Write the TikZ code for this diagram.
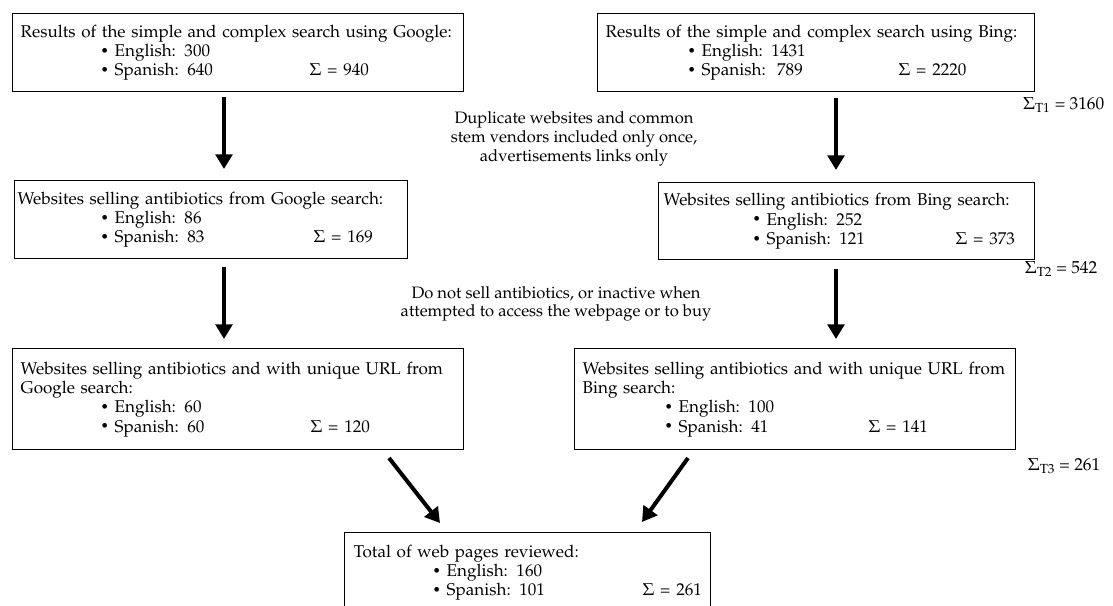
\documentclass[tikz,border=0pt]{standalone}
\usepackage[T1]{fontenc}
\usepackage{mathpazo}
\usepackage{graphicx}
\usetikzlibrary{arrows.meta,calc}
\newdimen\pxu \pxu=0.75pt
% bullet line: #2 bullet x offset (px), #3 text
\newcommand\bl[3][14]{\hspace*{#2\pxu}\makebox[#1\pxu][l]{\raisebox{0.15ex}{\scalebox{0.8}{\textbullet}}}#3}
% sum placed at absolute offset #1 (px) from text start
\newcommand\sg[2]{\makebox[0pt][l]{\hspace*{#1\pxu}$\Sigma$ = #2}}
\tikzset{
  box/.style={draw, line width=1.1pt, anchor=north west, inner xsep=0pt, inner ysep=0pt, align=left, font=\fontsize{12.8}{14.5}\selectfont},
  arr/.style={line width=3pt, -{Triangle[width=12.5pt,length=11pt]}},
  note/.style={align=center, font=\fontsize{12.4}{14}\selectfont},
  tot/.style={anchor=east, font=\fontsize{13}{15}\selectfont},
}
\begin{document}
\begin{tikzpicture}[x=0.75pt,y=-0.75pt]
\useasboundingbox (0,0) rectangle (1113,606);
\clip (0,0) rectangle (1113,606);
% boxes
\node[box, minimum width=451*0.75pt, minimum height=78*0.75pt, text width=451*0.75pt] (g1) at (12,13)
 {\hspace*{8\pxu}Results of the simple and complex search using Google:\\
  \hspace*{8\pxu}\bl{80}{English: 300}\\
  \hspace*{8\pxu}\sg{289}{940}\bl{80}{Spanish: 640}};
\node[box, minimum width=437*0.75pt, minimum height=78*0.75pt, text width=437*0.75pt] (b1) at (597,13)
 {\hspace*{8\pxu}Results of the simple and complex search using Bing:\\
  \hspace*{8\pxu}\bl{82}{English: 1431}\\
  \hspace*{8\pxu}\sg{293}{2220}\bl{82}{Spanish:\ \ 789}};
\node[box, minimum width=393*0.75pt, minimum height=78*0.75pt, text width=393*0.75pt] (g2) at (14,180)
 {\hspace*{3\pxu}Websites selling antibiotics from Google search:\\
  \hspace*{3\pxu}\bl{83}{English: 86}\\
  \hspace*{3\pxu}\sg{296}{169}\bl{83}{Spanish: 83}};
\node[box, minimum width=376*0.75pt, minimum height=77*0.75pt, text width=376*0.75pt] (b2) at (658,182)
 {\hspace*{5\pxu}Websites selling antibiotics from Bing search:\\
  \hspace*{5\pxu}\bl{89}{English: 252}\\
  \hspace*{5\pxu}\sg{292}{373}\bl{89}{Spanish: 121}};
\node[box, minimum width=451*0.75pt, minimum height=101*0.75pt, text width=451*0.75pt] (g3) at (12,348)
 {\hspace*{8\pxu}Websites selling antibiotics and with unique URL from\\
  \hspace*{8\pxu}Google search:\\
  \hspace*{8\pxu}\bl{80}{English: 60}\\
  \hspace*{8\pxu}\sg{290}{120}\bl{80}{Spanish: 60}};
\node[box, minimum width=441*0.75pt, minimum height=101*0.75pt, text width=441*0.75pt] (b3) at (574,348)
 {\hspace*{8\pxu}Websites selling antibiotics and with unique URL from\\
  \hspace*{8\pxu}Bing search:\\
  \hspace*{8\pxu}\bl{82}{English: 100}\\
  \hspace*{8\pxu}\sg{286}{141}\bl{82}{Spanish: 41}};
\node[box, minimum width=366*0.75pt, minimum height=80*0.75pt, text width=366*0.75pt] (tb) at (344,532)
 {\hspace*{9\pxu}Total of web pages reviewed:\\
  \hspace*{9\pxu}\bl{79}{English: 160}\\
  \hspace*{9\pxu}\sg{289}{261}\bl{79}{Spanish: 101}};
% notes
\node[note] (n1) at (574,139) {Duplicate websites and common\\stem vendors included only once,\\advertisements links only};
\node[note] (n2) at (556,304) {Do not sell antibiotics, or inactive when\\attempted to access the webpage or to buy};
\node[tot] (t1) at (1109,105) {$\Sigma_{\mathrm{T1}}$ = 3160};
\node[tot] (t2) at (1102,269) {$\Sigma_{\mathrm{T2}}$ = 542};
\node[tot] (t3) at (1105,466) {$\Sigma_{\mathrm{T3}}$ = 261};
% arrows
\coordinate (ga) at (224,0);
\coordinate (ba) at (836,0);
\draw[arr, shorten <=5\pxu, shorten >=11\pxu] (g1.south -| ga) -- (g2.north -| ga);
\draw[arr, shorten <=8\pxu, shorten >=9\pxu] (g2.south -| ga) -- (g3.north -| ga);
\draw[arr, shorten <=6\pxu, shorten >=12\pxu] (b1.south -| ba) -- (b2.north -| ba);
\draw[arr, shorten <=9\pxu, shorten >=9\pxu] (b2.south -| ba) -- (b3.north -| ba);
\coordinate (la) at (389,458);
\coordinate (lb) at (440,523);
\coordinate (ra) at (688,458);
\coordinate (rb) at (642,522);
\draw[arr] (la) -- (lb);
\draw[arr] (ra) -- (rb);
\end{tikzpicture}
\end{document}
